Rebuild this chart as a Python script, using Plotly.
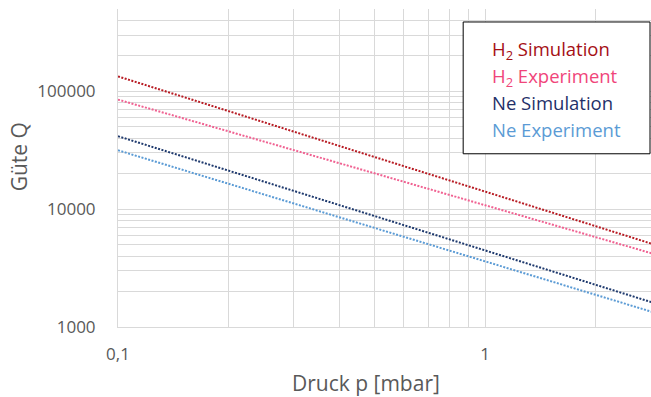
import plotly.graph_objects as go

# Data (log-log)
pressure = [0.1, 0.2, 0.5, 1, 2, 3]
h2_sim = [134000, 67700, 27700, 14100, 7170, 4830]
h2_exp = [85100, 46000, 20150, 10800, 5790, 4020]
ne_sim = [41600, 21300, 8750, 4470, 2280, 1540]
ne_exp = [31600, 16400, 6920, 3600, 1870, 1280]

series_names = ["H<sub>2</sub> Simulation", "H<sub>2</sub> Experiment", "Ne Simulation", "Ne Experiment"]
series_vals = [h2_sim, h2_exp, ne_sim, ne_exp]
line_colors = ["#B81C24", "#F06292", "#1F3A6E", "#5B9BD5"]
text_colors = ["#A50F15", "#F0457A", "#1F3069", "#5B9BD5"]

x_tickvals = [0.1, 1]
x_ticktext = ["0,1", "1"]
x_minorvals = [0.2, 0.3, 0.4, 0.5, 0.6, 0.7, 0.8, 0.9, 2, 3]
y_tickvals = [1000, 10000, 100000]
y_ticktext = ["1000", "10000", "100000"]
y_minorvals = [m * 10 ** e for e in (3, 4, 5) for m in range(2, 10)]

W, H = 651, 397
L, T, B = 117.5, 9, 69.5
PW, PH = W - L, H - T - B

fig = go.Figure()
for name, vals, col in zip(series_names, series_vals, line_colors):
    fig.add_trace(go.Scatter(x=pressure, y=vals, mode="lines", name=name,
                             line=dict(color=col, width=2, dash="2px,1.5px"),
                             showlegend=False))

font = "Open Sans"
grid = "#D9D9D9"
fig.update_layout(
    width=W, height=H,
    margin=dict(l=L, r=0, t=T, b=B),
    paper_bgcolor="white", plot_bgcolor="white",
    font=dict(family=font, color="#595959"),
    xaxis=dict(type="log", range=[-1, 0.4517],
               tickmode="array", tickvals=x_tickvals, ticktext=x_ticktext,
               showgrid=True, gridcolor=grid, gridwidth=1,
               minor=dict(tickmode="array", tickvals=x_minorvals, showgrid=True,
                          gridcolor=grid, gridwidth=1, ticks=""),
               showline=True, linecolor=grid, linewidth=1,
               ticks="", ticklabelstandoff=12,
               tickfont=dict(size=17, color="#595959"),
               zeroline=False),
    yaxis=dict(type="log", range=[3, 5.699],
               tickmode="array", tickvals=y_tickvals, ticktext=y_ticktext,
               showgrid=True, gridcolor=grid, gridwidth=1,
               minor=dict(tickmode="array", tickvals=y_minorvals, showgrid=True,
                          gridcolor=grid, gridwidth=1, ticks=""),
               showline=True, linecolor=grid, linewidth=1,
               ticks="", ticklabelstandoff=18,
               tickfont=dict(size=17, color="#595959"),
               zeroline=False),
)

# Axis titles (positioned as in reference)
fig.add_annotation(xref="paper", yref="paper", x=(366 - L) / PW, y=(H - B - 384) / PH,
                   xanchor="center", yanchor="middle", showarrow=False,
                   text="Druck p [mbar]", font=dict(family=font, size=21, color="#595959"))
fig.add_annotation(xref="paper", yref="paper", x=(18 - L) / PW, y=(H - B - 157) / PH,
                   xanchor="center", yanchor="middle", showarrow=False, textangle=-90,
                   text="Güte Q", font=dict(family=font, size=21, color="#595959"))

# Legend box (text-only legend as in reference)
fig.add_shape(type="rect", xref="paper", yref="paper",
              x0=(463 - L) / PW, x1=(650 - L) / PW,
              y0=(H - B - 154) / PH, y1=(H - B - 22) / PH,
              line=dict(color="black", width=1), fillcolor="white", layer="above")
legend_y = [50, 77, 103, 130]
for name, col, yy in zip(series_names, text_colors, legend_y):
    fig.add_annotation(xref="paper", yref="paper",
                       x=(490 - L) / PW, y=(H - B - yy) / PH,
                       xanchor="left", yanchor="middle", showarrow=False,
                       text=name, font=dict(family=font, size=18.5, color=col))

fig.write_html("out.html")
